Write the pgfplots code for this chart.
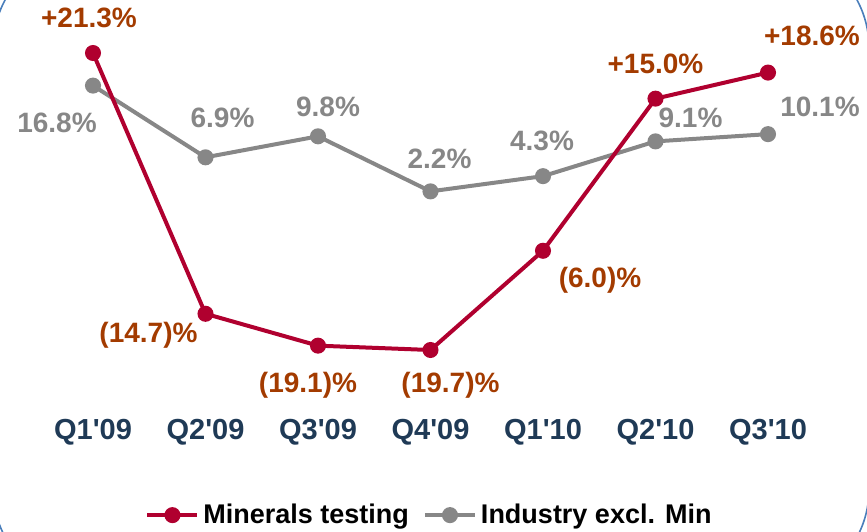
\documentclass[border=0pt]{standalone}
\usepackage{fontspec}
\setmainfont{Liberation Sans}
\usepackage{pgfplots}
\pgfplotsset{compat=1.18}
\definecolor{minred}{HTML}{B0002F}
\definecolor{lblred}{HTML}{A33B00}
\definecolor{indgray}{HTML}{878787}
\definecolor{ticknavy}{HTML}{1F3A56}
\definecolor{frameblue}{HTML}{4A7EBB}
\tikzset{lbl/.style={font=\fontsize{14}{16}\selectfont\bfseries}}
\begin{document}
\begin{tikzpicture}
\useasboundingbox (0,0) rectangle (433.5pt,265.5pt);
\begin{scope}
\clip (0,0) rectangle (433.5pt,265.5pt);
\draw[frameblue, line width=0.8pt, rounded corners=50pt] (-3.45pt,291.75pt) rectangle (434.5pt,-29.25pt);
\end{scope}
\begin{axis}[
  at={(46.5pt,90.5pt)}, anchor=south west,
  scale only axis, width=337.5pt, height=148.5pt,
  xmin=0, xmax=6, ymin=-19.7, ymax=21.3,
  clip=false,
  axis line style={draw=none},
  major tick length=0pt,
  ytick=\empty,
  xtick={0,1,2,3,4,5,6},
  xticklabels={Q1\textquotesingle09,Q2\textquotesingle09,Q3\textquotesingle09,Q4\textquotesingle09,Q1\textquotesingle10,Q2\textquotesingle10,Q3\textquotesingle10},
  xticklabel style={anchor=center, yshift=-41pt, font=\fontsize{14.5}{17}\selectfont\bfseries, text=ticknavy},
  legend style={at={(0.5,-0.556)}, anchor=center, draw=none, fill=none,
    font=\fontsize{13.5}{16}\selectfont\bfseries, legend columns=2,
    /tikz/every even column/.append style={column sep=5pt}},
  legend image code/.code={\draw[mark repeat=2,mark phase=2,#1] plot coordinates {(0pt,0pt)(12.5pt,0pt)(25pt,0pt)};},
]
\addlegendimage{minred, line width=2pt, mark=*, mark size=3pt, mark options={solid, fill=minred}}
\addlegendentry{Minerals testing}
\addlegendimage{indgray, line width=2pt, mark=*, mark size=3pt, mark options={solid, fill=indgray}}
\addlegendentry{Industry excl. Min}
\addplot[indgray, line width=2pt, mark=*, mark size=3pt, mark options={solid, fill=indgray}, forget plot]
  coordinates {(0,16.8) (1,6.9) (2,9.8) (3,2.2) (4,4.3) (5,9.1) (6,10.1)};
\addplot[minred, line width=2pt, mark=*, mark size=3pt, mark options={solid, fill=minred}, forget plot]
  coordinates {(0,21.3) (1,-14.7) (2,-19.1) (3,-19.7) (4,-6.0) (5,15.0) (6,18.6)};
% red labels
\node[lbl, text=lblred, xshift=-2pt, yshift=17.5pt] at (axis cs:0,21.3) {+21.3\%};
\node[lbl, text=lblred, xshift=-28.5pt, yshift=-10.5pt] at (axis cs:1,-14.7) {(14.7)\%};
\node[lbl, text=lblred, xshift=-5pt, yshift=-20pt] at (axis cs:2,-19.1) {(19.1)\%};
\node[lbl, text=lblred, xshift=10pt, yshift=-17.5pt] at (axis cs:3,-19.7) {(19.7)\%};
\node[lbl, text=lblred, xshift=28.5pt, yshift=-14.5pt] at (axis cs:4,-6.0) {(6.0)\%};
\node[lbl, text=lblred, xshift=0pt, yshift=17.5pt] at (axis cs:5,15.0) {+15.0\%};
\node[lbl, text=lblred, xshift=22pt, yshift=18.5pt] at (axis cs:6,18.6) {+18.6\%};
% gray labels
\node[lbl, text=indgray, xshift=-18pt, yshift=-18.5pt] at (axis cs:0,16.8) {16.8\%};
\node[lbl, text=indgray, xshift=8.5pt, yshift=19.5pt] at (axis cs:1,6.9) {6.9\%};
\node[lbl, text=indgray, xshift=5pt, yshift=14.5pt] at (axis cs:2,9.8) {9.8\%};
\node[lbl, text=indgray, xshift=4.5pt, yshift=16.5pt] at (axis cs:3,2.2) {2.2\%};
\node[lbl, text=indgray, xshift=-0.5pt, yshift=17.5pt] at (axis cs:4,4.3) {4.3\%};
\node[lbl, text=indgray, xshift=17.5pt, yshift=12pt] at (axis cs:5,9.1) {9.1\%};
\node[lbl, text=indgray, xshift=26pt, yshift=13.5pt] at (axis cs:6,10.1) {10.1\%};
\end{axis}
\end{tikzpicture}
\end{document}
